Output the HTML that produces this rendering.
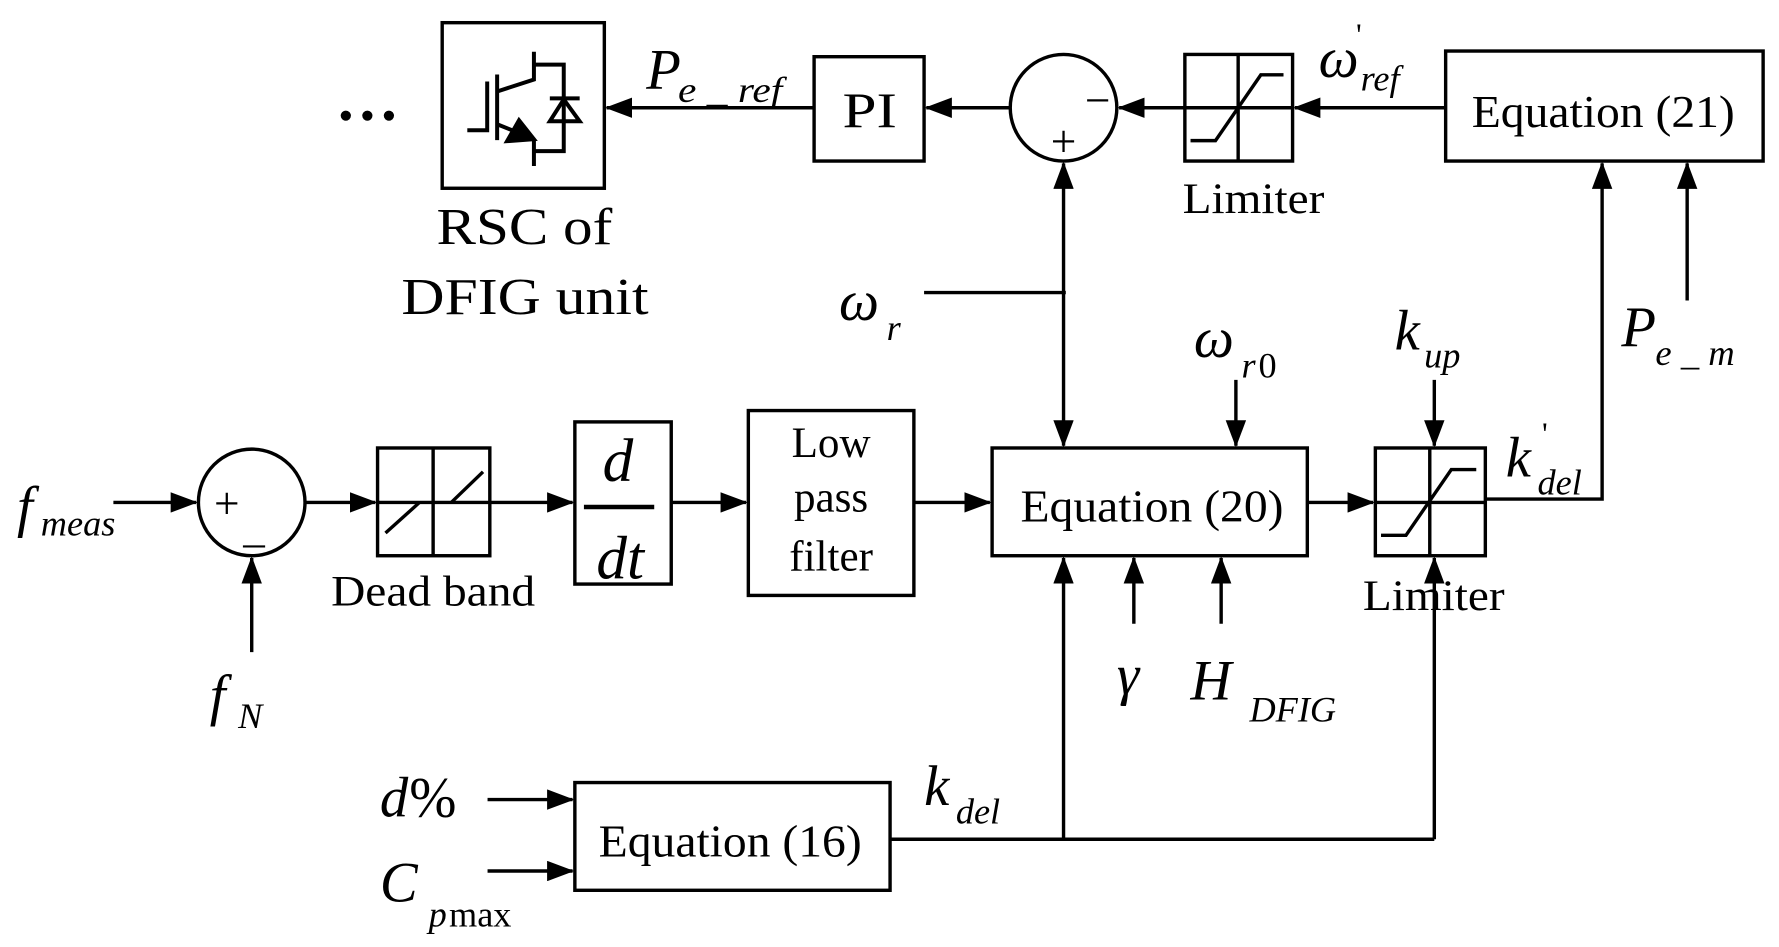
<!DOCTYPE html>
<html><head><meta charset="utf-8"><style>
html,body{margin:0;padding:0;background:#fff;}
svg{display:block}
text{font-family:"Liberation Serif",serif;fill:#000}
.i{font-style:italic}
</style></head><body>
<svg width="1779" height="947" viewBox="0 0 1569 835" preserveAspectRatio="none" xmlns="http://www.w3.org/2000/svg">
<defs>
<marker id="a" markerWidth="8" markerHeight="6" refX="7.5" refY="3" orient="auto" markerUnits="strokeWidth">
<path d="M0,0 L8,3 L0,6 Z" fill="#000"/></marker>
</defs>
<g fill="none" stroke="#000" stroke-width="3">
<rect x="390" y="20" width="143" height="146"/>
<rect x="718" y="50" width="97" height="92"/>
<circle cx="938" cy="95" r="47"/>
<rect x="1045" y="48" width="95" height="94"/>
<rect x="1275" y="45" width="280" height="97"/>
<rect x="875" y="395" width="278" height="95"/>
<rect x="1213" y="395" width="97" height="95"/>
<circle cx="222" cy="443" r="47"/>
<rect x="333" y="395" width="99" height="95"/>
<rect x="507" y="372" width="85" height="143"/>
<rect x="660" y="362" width="146" height="163"/>
<rect x="507" y="690" width="278" height="95"/>
<line x1="1092" y1="48" x2="1092" y2="142"/>
<line x1="1045" y1="95" x2="1140" y2="95"/>
<polyline points="1050,124 1072,124 1112,66 1132,66"/>
<line x1="1261" y1="395" x2="1261" y2="490"/>
<line x1="1213" y1="443" x2="1310" y2="443"/>
<polyline points="1218,472 1240,472 1280,414 1302,414"/>
<line x1="382" y1="395" x2="382" y2="490"/>
<line x1="333" y1="443" x2="432" y2="443"/>
<line x1="340" y1="470" x2="370" y2="443"/>
<line x1="398" y1="443" x2="426" y2="416"/>
<line x1="515" y1="447" x2="577" y2="447" stroke-width="4"/>
<line x1="718" y1="95" x2="535" y2="95" marker-end="url(#a)"/>
<line x1="891" y1="95" x2="817" y2="95" marker-end="url(#a)"/>
<line x1="1045" y1="95" x2="987" y2="95" marker-end="url(#a)"/>
<line x1="1275" y1="95" x2="1142" y2="95" marker-end="url(#a)"/>
<polyline points="1310,440 1413,440 1413,144" marker-end="url(#a)"/>
<line x1="1488" y1="265" x2="1488" y2="144" marker-end="url(#a)"/>
<line x1="815" y1="258" x2="940" y2="258"/>
<line x1="938" y1="250" x2="938" y2="144" marker-end="url(#a)"/>
<line x1="938" y1="250" x2="938" y2="393" marker-end="url(#a)"/>
<line x1="1090" y1="335" x2="1090" y2="393" marker-end="url(#a)"/>
<line x1="1265" y1="335" x2="1265" y2="393" marker-end="url(#a)"/>
<line x1="1153" y1="443" x2="1211" y2="443" marker-end="url(#a)"/>
<line x1="100" y1="443" x2="173" y2="443" marker-end="url(#a)"/>
<line x1="222" y1="575" x2="222" y2="492" marker-end="url(#a)"/>
<line x1="270" y1="443" x2="331" y2="443" marker-end="url(#a)"/>
<line x1="432" y1="443" x2="505" y2="443" marker-end="url(#a)"/>
<line x1="592" y1="443" x2="658" y2="443" marker-end="url(#a)"/>
<line x1="806" y1="443" x2="873" y2="443" marker-end="url(#a)"/>
<line x1="785" y1="740" x2="1265" y2="740"/>
<line x1="938" y1="740" x2="938" y2="492" marker-end="url(#a)"/>
<line x1="1265" y1="740" x2="1265" y2="492" marker-end="url(#a)"/>
<line x1="1000" y1="550" x2="1000" y2="492" marker-end="url(#a)"/>
<line x1="1077" y1="550" x2="1077" y2="492" marker-end="url(#a)"/>
<line x1="430" y1="705" x2="505" y2="705" marker-end="url(#a)"/>
<line x1="430" y1="768" x2="505" y2="768" marker-end="url(#a)"/>
</g>
<g transform="scale(0.8769,0.8765)" fill="none" stroke="#000" stroke-width="4">
<polyline points="470,131 490,131 490,82"/>
<line x1="500" y1="75" x2="500" y2="141"/>
<polyline points="500,92 537,80 537,52"/>
<polyline points="537,65 567,65 567,152 537,152"/>
<line x1="537" y1="140" x2="537" y2="167"/>
<line x1="500" y1="125" x2="525" y2="135"/>
<path d="M510,142 L537,140 L522,121 Z" fill="#000"/>
<path d="M553,122 L583,122 L567,100 Z"/>
<line x1="553" y1="99" x2="583" y2="99"/>
</g>
<circle cx="305" cy="102" r="4.5"/><circle cx="324" cy="102" r="4.5"/><circle cx="343" cy="102" r="4.5"/>
<g font-size="40">
<text x="385" y="215" font-size="46" textLength="155" lengthAdjust="spacingAndGlyphs">RSC of</text>
<text x="354" y="277" font-size="46" textLength="218" lengthAdjust="spacingAndGlyphs">DFIG unit</text>
<text x="743" y="112" font-size="44" textLength="48" lengthAdjust="spacingAndGlyphs">PI</text>
<text x="1298" y="112" font-size="40" textLength="232" lengthAdjust="spacingAndGlyphs">Equation (21)</text>
<text x="900" y="460" font-size="40" textLength="232" lengthAdjust="spacingAndGlyphs">Equation (20)</text>
<text x="528" y="755" font-size="40" textLength="232" lengthAdjust="spacingAndGlyphs">Equation (16)</text>
<text x="1043" y="188" font-size="38" textLength="125" lengthAdjust="spacingAndGlyphs">Limiter</text>
<text x="1202" y="538" font-size="38" textLength="125" lengthAdjust="spacingAndGlyphs">Limiter</text>
<text x="292" y="534" font-size="38" textLength="180" lengthAdjust="spacingAndGlyphs">Dead band</text>
<text x="733" y="403" text-anchor="middle" font-size="38">Low</text>
<text x="733" y="451" text-anchor="middle" font-size="38">pass</text>
<text x="733" y="503" text-anchor="middle" font-size="38">filter</text>
<text x="545" y="424" text-anchor="middle" class="i" font-size="54">d</text>
<text x="547" y="510" text-anchor="middle" class="i" font-size="54">dt</text>
<text x="968" y="102" font-size="40" text-anchor="middle">−</text>
<text x="938" y="138" font-size="40" text-anchor="middle">+</text>
<text x="200" y="457" font-size="40" text-anchor="middle">+</text>
<text x="224" y="478" font-size="38" text-anchor="middle">_</text>
<text x="570" y="78" class="i" font-size="50">P</text><text x="598" y="90" class="i" font-size="32" textLength="92" lengthAdjust="spacingAndGlyphs">e _ ref</text>
<text x="1163" y="68" class="i" font-size="50">ω</text><text x="1196" y="40" font-size="28">'</text><text x="1200" y="80" class="i" font-size="32">ref</text>
<text x="1430" y="305" class="i" font-size="50">P</text><text x="1460" y="322" class="i" font-size="32" textLength="70" lengthAdjust="spacingAndGlyphs">e _ m</text>
<text x="740" y="282" class="i" font-size="50">ω</text><text x="782" y="300" class="i" font-size="32">r</text>
<text x="1053" y="315" class="i" font-size="50">ω</text><text x="1095" y="333" class="i" font-size="32">r</text><text x="1110" y="333" font-size="32">0</text>
<text x="1230" y="308" class="i" font-size="50">k</text><text x="1256" y="324" class="i" font-size="32">up</text>
<text x="1328" y="420" class="i" font-size="50">k</text><text x="1360" y="392" font-size="28">'</text><text x="1356" y="436" class="i" font-size="32">del</text>
<text x="815" y="710" class="i" font-size="50">k</text><text x="843" y="726" class="i" font-size="32">del</text>
<text x="15" y="464" class="i" font-size="50">f</text><text x="36" y="472" class="i" font-size="32">meas</text>
<text x="185" y="630" class="i" font-size="50">f</text><text x="210" y="642" class="i" font-size="32">N</text>
<text x="985" y="612" class="i" font-size="50">γ</text>
<text x="1050" y="617" class="i" font-size="50">H</text><text x="1102" y="636" class="i" font-size="32">DFIG</text>
<text x="335" y="720" class="i" font-size="50">d</text><text x="361" y="720" font-size="50">%</text>
<text x="335" y="795" class="i" font-size="50">C</text><text x="378" y="817" class="i" font-size="32">p</text><text x="396" y="817" font-size="32">max</text>
</g>
</svg>
</body></html>
